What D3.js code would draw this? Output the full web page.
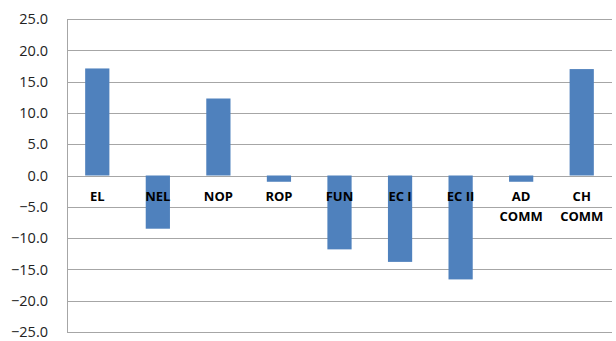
<!DOCTYPE html>
<html>
<head>
<meta charset="utf-8">
<script src="https://cdn.jsdelivr.net/npm/d3@7"></script>
<style>
  body { margin: 0; background: #fff; }
  svg { display: block; }
</style>
</head>
<body>
<div id="chart"></div>
<script>
const categories = ["EL", "NEL", "NOP", "ROP", "FUN", "EC I", "EC II", "AD COMM", "CH COMM"];
const values = [17.1, -8.5, 12.3, -1.0, -11.8, -13.8, -16.6, -1.0, 17.0];
const yTicks = [25, 20, 15, 10, 5, 0, -5, -10, -15, -20, -25];

const width = 616, height = 341;
const margin = {top: 19, right: 4, bottom: 9, left: 67};

const svg = d3.select("#chart").append("svg")
  .attr("width", width)
  .attr("height", height);

const x = d3.scaleBand()
  .domain(categories)
  .range([margin.left, width - margin.right])
  .paddingInner(0.6)
  .paddingOuter(0.3);

const y = d3.scaleLinear()
  .domain([-25, 25])
  .range([height - margin.bottom, margin.top]);

// gridlines
svg.append("g")
  .selectAll("line")
  .data(yTicks)
  .join("line")
    .attr("x1", margin.left)
    .attr("x2", width - margin.right)
    .attr("y1", d => Math.round(y(d)) + 0.5)
    .attr("y2", d => Math.round(y(d)) + 0.5)
    .attr("stroke", "#a6a6a6")
    .attr("stroke-width", 1);

// left axis line
svg.append("line")
  .attr("x1", margin.left + 0.5)
  .attr("x2", margin.left + 0.5)
  .attr("y1", y(25))
  .attr("y2", y(-25) + 1)
  .attr("stroke", "#a6a6a6");

// y tick labels
svg.append("g")
  .attr("font-family", "'Open Sans', sans-serif")
  .attr("font-size", 14.5)
  .attr("fill", "#222")
  .selectAll("text")
  .data(yTicks)
  .join("text")
    .attr("x", 48)
    .attr("y", d => y(d))
    .attr("dy", "0.36em")
    .attr("text-anchor", "end")
    .text(d => d3.format(".1f")(d));

// bars
svg.append("g")
  .selectAll("rect")
  .data(values)
  .join("rect")
    .attr("x", (d, i) => x(categories[i]))
    .attr("width", x.bandwidth())
    .attr("y", d => y(Math.max(0, d)))
    .attr("height", d => Math.abs(y(d) - y(0)))
    .attr("fill", "#4f81bd");

// category labels
svg.append("g")
  .attr("font-family", "'Open Sans', sans-serif")
  .attr("font-size", 13)
  .attr("font-weight", "bold")
  .attr("fill", "#000")
  .selectAll("text")
  .data(categories)
  .join("text")
    .attr("text-anchor", "middle")
    .attr("x", d => x(d) + x.bandwidth() / 2)
    .attr("y", 201)
    .each(function(d) {
      const parts = d.startsWith("AD") || d.startsWith("CH") ? d.split(" ") : [d];
      d3.select(this).selectAll("tspan")
        .data(parts)
        .join("tspan")
          .attr("x", x(d) + x.bandwidth() / 2)
          .attr("dy", (p, j) => j === 0 ? 0 : 20)
          .text(p => p);
    });
</script>
</body>
</html>
